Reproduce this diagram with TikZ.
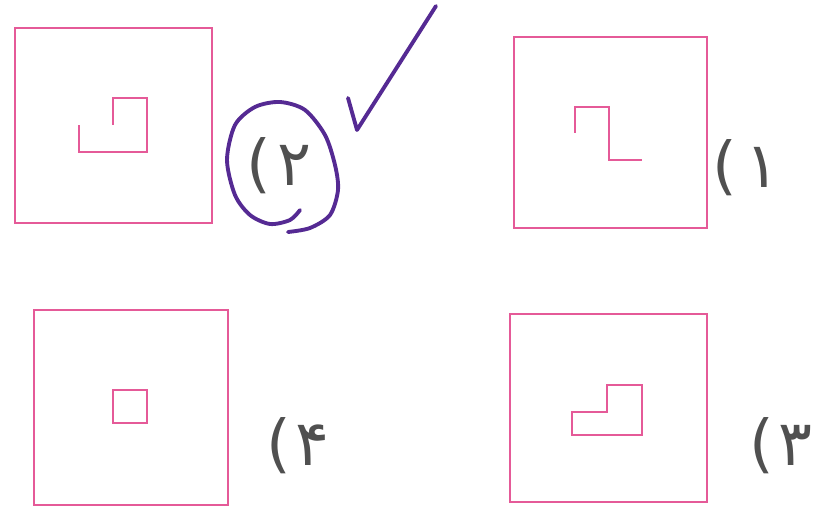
\documentclass[tikz,border=0pt]{standalone}
\usepackage{fontspec}
\newfontfamily\arabicfont[Script=Arabic]{DejaVu Sans}
\TeXXeTstate=1
\usetikzlibrary{positioning}
\definecolor{framepink}{HTML}{E55A98}
\definecolor{inkpurple}{HTML}{552A93}
\definecolor{printgray}{HTML}{505050}
\tikzset{
    frame/.style = {
        draw=framepink,
        shape=rectangle,
        line width=1.6pt,
        inner sep=0pt
    },
    figline/.style = {
        draw=framepink,
        line width=1.6pt,
        line join=miter
    },
    choice/.style = {
        text=printgray,
        font=\arabicfont\fontsize{36}{38}\selectfont,
        inner sep=0pt
    },
    ink/.style = {
        draw=inkpurple,
        line width=2.2pt,
        line cap=round,
        line join=round
    },
}

\begin{document}
\begin{tikzpicture}[x=0.02cm,y=-0.02cm]
                \useasboundingbox (0,0) rectangle (815,510);

                \node[frame, minimum width=3.94cm, minimum height=3.9cm] (box2) at (113.5,125.5) {};
                \node[frame, minimum width=3.86cm, minimum height=3.82cm] (box1) at (610.5,132.5) {};
                \node[frame, minimum width=3.88cm, minimum height=3.9cm] (box4) at (131,407.5) {};
                \node[frame, minimum width=3.94cm, minimum height=3.76cm] (box3) at (608.5,408) {};

                % figures inside the frames
                \path[figline] (113,125) -- (113,98) -- (147,98) -- (147,152) -- (79,152) -- (79,125);
                \path[figline] (575,133) -- (575,107) -- (609,107) -- (609,160) -- (642,160);
                \path[figline] (113,390) rectangle (147,423);
                \path[figline] (572,412) -- (607,412) -- (607,385) -- (642,385) -- (642,435) -- (572,435) -- cycle;

                \node[choice] (lab2) at (279,166) {\beginR ۲\kern4pt)\endR};
                \node[choice] (lab1) at (746,168) {\beginR ۱\kern5pt)\endR};
                \node[choice] (lab4) at (298,446) {\beginR ۴\kern3pt)\endR};
                \node[choice] (lab3) at (781,446) {\beginR ۳\kern3pt)\endR};

                % pen marks
                \path[ink] plot[smooth] coordinates {(300,210) (290,220) (270,224) (250,215) (235,195)
                    (227,160) (235,125) (255,107) (280,102) (305,110) (325,135) (335,165)
                    (338,190) (330,215) (310,228) (288,232)};
                \path[ink] (348,98) -- (357,130) -- (436,6);
\end{tikzpicture}
\end{document}
